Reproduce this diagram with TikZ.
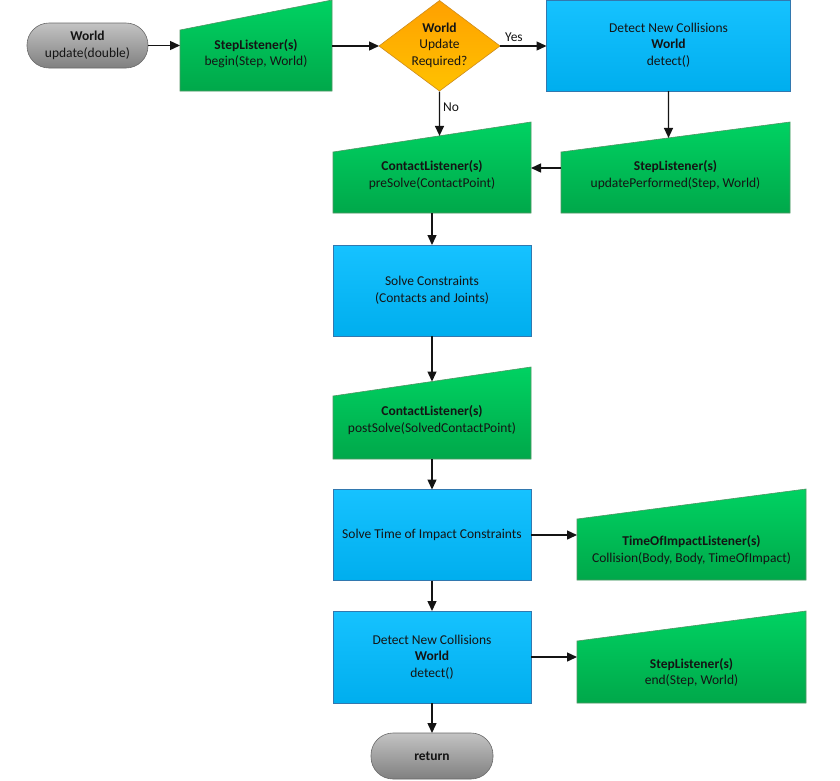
\documentclass[tikz,border=0pt]{standalone}
\usepackage{fontspec}
\setmainfont{Carlito}
\usetikzlibrary{calc,arrows.meta}
\definecolor{gtop}{RGB}{0,210,98}
\definecolor{gbot}{RGB}{0,168,74}
\definecolor{gline}{RGB}{80,150,100}
\definecolor{btop}{RGB}{22,194,255}
\definecolor{bbot}{RGB}{0,174,238}
\definecolor{bline}{RGB}{50,120,175}
\definecolor{otop}{RGB}{255,160,0}
\definecolor{obot}{RGB}{255,194,0}
\definecolor{oline}{RGB}{205,140,30}
\definecolor{ytop}{RGB}{195,195,195}
\definecolor{ybot}{RGB}{128,128,128}
\definecolor{yline}{RGB}{105,105,105}
\definecolor{ink}{RGB}{20,20,20}
\newcommand\maninput[6]{% name, x1, x2, y top-left, y top-right, y bottom
  \path[gfill] (#2,#4) -- (#3,#5) -- (#3,#6) -- (#2,#6) -- cycle;
  \coordinate (#1tl) at (#2,#4);
  \coordinate (#1tr) at (#3,#5);
  \node[area, minimum width={(#3-#2)*1pt}, minimum height={(#6-#4)*1pt}] (#1) at ({(#2+#3)/2},{(#4+#6)/2}) {};
}
\begin{document}
\begin{tikzpicture}[x=1pt,y=-1pt,
  txt/.style={font=\fontsize{13.5}{16.5}\selectfont, text=ink, align=center, inner sep=0pt},
  area/.style={inner sep=0pt, outer sep=0pt},
  gfill/.style={top color=gtop, bottom color=gbot, draw=gline, line width=0.6pt},
  bfill/.style={top color=btop, bottom color=bbot, draw=bline, line width=0.6pt},
  ofill/.style={top color=otop, bottom color=obot, draw=oline, line width=0.6pt},
  pill/.style={area, rounded corners=22pt, minimum width=121pt, minimum height=45pt, top color=ytop, bottom color=ybot, draw=yline, line width=0.6pt},
  arr/.style={-{Triangle[length=10pt,width=9pt]}, line width=1.4pt, draw=ink},
  lbl/.style={font=\fontsize{13.5}{15}\selectfont, text=ink, inner sep=1pt}
]
\useasboundingbox (0,0) rectangle (840,780);
\fill[white] (0,0) rectangle (840,780);

% start terminator
\node[pill] (world) at (87.5,45.5) {};
\node[txt] (worldT) at (87.5,45.5) {\textbf{World}\\update(double)};

% StepListener begin
\maninput{begin}{180}{332}{30}{0}{91}
\node[txt] (beginT) at (256,53.5) {\textbf{StepListener(s)}\\begin(Step, World)};

% decision
\path[ofill] (379,46) -- (439.5,0.5) -- (500,46) -- (439.5,91) -- cycle;
\node[area, minimum width=121pt, minimum height=91pt] (dia) at (439.5,46) {};
\node[txt] (diaT) at (439.5,45) {\textbf{World}\\Update\\Required?};

% detect (top)
\node[area, bfill, minimum width=244pt, minimum height=91pt] (det) at (668.5,45.5) {};
\node[txt] (detT) at (668.5,45) {Detect New Collisions\\\textbf{World}\\detect()};

% StepListener updatePerformed
\maninput{upd}{561}{790}{152}{122}{213}
\node[txt] (updT) at (675.5,175) {\textbf{StepListener(s)}\\updatePerformed(Step, World)};

% ContactListener preSolve
\maninput{pre}{333}{531}{152}{122}{213}
\node[txt] (preT) at (432,175) {\textbf{ContactListener(s)}\\preSolve(ContactPoint)};

% Solve constraints
\node[area, bfill, minimum width=198pt, minimum height=91pt] (sol) at (432,290.5) {};
\node[txt] (solT) at (432,290) {Solve Constraints\\(Contacts and Joints)};

% ContactListener postSolve
\maninput{post}{333}{531}{396}{367}{459}
\node[txt] (postT) at (432,420) {\textbf{ContactListener(s)}\\postSolve(SolvedContactPoint)};

% Solve TOI
\node[area, bfill, minimum width=198pt, minimum height=91pt] (toi) at (432,535) {};
\node[txt] (toiT) at (432,535) {Solve Time of Impact Constraints};

% TimeOfImpactListener
\maninput{tol}{577}{806}{519}{489}{580}
\node[txt] (tolT) at (691.5,550) {\textbf{TimeOfImpactListener(s)}\\Collision(Body, Body, TimeOfImpact)};

% detect (bottom)
\node[area, bfill, minimum width=198pt, minimum height=92pt] (det2) at (432,657) {};
\node[txt] (det2T) at (432,657) {Detect New Collisions\\\textbf{World}\\detect()};

% StepListener end
\maninput{endl}{577}{806}{641}{611}{703}
\node[txt] (endlT) at (691.5,672.5) {\textbf{StepListener(s)}\\end(Step, World)};

% return
\node[pill, minimum width=122pt, minimum height=46pt] (ret) at (432,756) {};
\node[txt] (retT) at (432,756) {\textbf{return}};

% arrival points on the slanted tops
\coordinate (preIn) at ($(pretl)!{(439.5-333)/198}!(pretr)$);
\coordinate (updIn) at ($(updtl)!{(668.5-561)/229}!(updtr)$);
\coordinate (postIn) at ($(posttl)!{(432-333)/198}!(posttr)$);
\coordinate (updArr) at ($(upd.west)+(0,-14.5)$);

% connectors
\draw[arr] (world.east) -- (world.east -| begin.west);
\draw[arr] (dia.west -| begin.east) -- (dia.west);
\draw[arr] (dia.east) -- (dia.east -| det.west) node[lbl, pos=0.3, above=3pt] (yes) {Yes};
\draw[arr] (dia.south) -- (preIn) node[lbl, pos=0.35, right, xshift=2pt] (no) {No};
\draw[arr] (det.south) -- (updIn);
\draw[arr] (updArr) -- (updArr -| pre.east);
\draw[arr] (pre.south) -- (sol.north);
\draw[arr] (sol.south) -- (postIn);
\draw[arr] (post.south) -- (toi.north);
\draw[arr] (toi.east) -- (toi.east -| tol.west);
\draw[arr] (toi.south) -- (det2.north);
\draw[arr] (det2.east) -- (det2.east -| endl.west);
\draw[arr] (det2.south) -- (ret.north);
\end{tikzpicture}
\end{document}
